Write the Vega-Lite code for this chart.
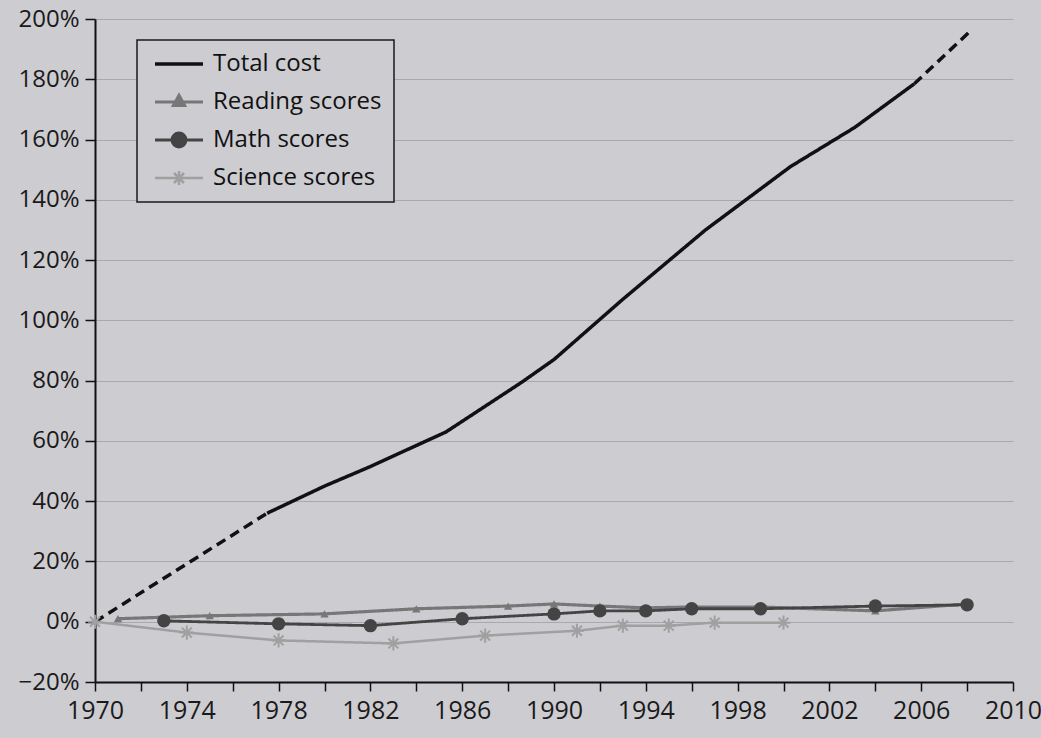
{
  "$schema": "https://vega.github.io/schema/vega-lite/v6.json",
  "autosize": "none",
  "width": 918,
  "height": 663,
  "padding": {"left": 95, "top": 19, "right": 28, "bottom": 56},
  "background": "#cdccd1",
  "config": {
    "view": {"stroke": null},
    "font": "Open Sans",
    "legend": {"strokeColor": "#1a1a1a", "strokeWidth": 1.5, "fillColor": "#cdccd1"}
  },
  "data": {
    "values": [
      {"series": "Total cost", "seg": "c1", "style": "dashed", "year": 1970, "value": 0},
      {"series": "Total cost", "seg": "c1", "style": "dashed", "year": 1977.5, "value": 36},
      {"series": "Total cost", "seg": "c2", "style": "solid", "year": 1977.5, "value": 36},
      {"series": "Total cost", "seg": "c2", "style": "solid", "year": 1980, "value": 45},
      {"series": "Total cost", "seg": "c2", "style": "solid", "year": 1982, "value": 51.5},
      {"series": "Total cost", "seg": "c2", "style": "solid", "year": 1985.3, "value": 63},
      {"series": "Total cost", "seg": "c2", "style": "solid", "year": 1988.6, "value": 79.5},
      {"series": "Total cost", "seg": "c2", "style": "solid", "year": 1990, "value": 87},
      {"series": "Total cost", "seg": "c2", "style": "solid", "year": 1993, "value": 107},
      {"series": "Total cost", "seg": "c2", "style": "solid", "year": 1996.6, "value": 130},
      {"series": "Total cost", "seg": "c2", "style": "solid", "year": 2000.3, "value": 151},
      {"series": "Total cost", "seg": "c2", "style": "solid", "year": 2003.1, "value": 164},
      {"series": "Total cost", "seg": "c2", "style": "solid", "year": 2005.7, "value": 178.5},
      {"series": "Total cost", "seg": "c3", "style": "dashed", "year": 2005.7, "value": 178.5},
      {"series": "Total cost", "seg": "c3", "style": "dashed", "year": 2008.1, "value": 195.7},

      {"series": "Reading scores", "seg": "r", "style": "solid", "year": 1971, "value": 1},
      {"series": "Reading scores", "seg": "r", "style": "solid", "year": 1975, "value": 2},
      {"series": "Reading scores", "seg": "r", "style": "solid", "year": 1980, "value": 2.6},
      {"series": "Reading scores", "seg": "r", "style": "solid", "year": 1984, "value": 4.3},
      {"series": "Reading scores", "seg": "r", "style": "solid", "year": 1988, "value": 5.2},
      {"series": "Reading scores", "seg": "r", "style": "solid", "year": 1990, "value": 5.9},
      {"series": "Reading scores", "seg": "r", "style": "solid", "year": 1992, "value": 5.2},
      {"series": "Reading scores", "seg": "r", "style": "solid", "year": 1994, "value": 4.6},
      {"series": "Reading scores", "seg": "r", "style": "solid", "year": 1996, "value": 4.9},
      {"series": "Reading scores", "seg": "r", "style": "solid", "year": 1999, "value": 4.9},
      {"series": "Reading scores", "seg": "r", "style": "solid", "year": 2004, "value": 3.6},
      {"series": "Reading scores", "seg": "r", "style": "solid", "year": 2008, "value": 5.9},

      {"series": "Math scores", "seg": "m", "style": "solid", "year": 1973, "value": 0.3},
      {"series": "Math scores", "seg": "m", "style": "solid", "year": 1978, "value": -0.7},
      {"series": "Math scores", "seg": "m", "style": "solid", "year": 1982, "value": -1.3},
      {"series": "Math scores", "seg": "m", "style": "solid", "year": 1986, "value": 1},
      {"series": "Math scores", "seg": "m", "style": "solid", "year": 1990, "value": 2.6},
      {"series": "Math scores", "seg": "m", "style": "solid", "year": 1992, "value": 3.6},
      {"series": "Math scores", "seg": "m", "style": "solid", "year": 1994, "value": 3.6},
      {"series": "Math scores", "seg": "m", "style": "solid", "year": 1996, "value": 4.3},
      {"series": "Math scores", "seg": "m", "style": "solid", "year": 1999, "value": 4.3},
      {"series": "Math scores", "seg": "m", "style": "solid", "year": 2004, "value": 5.2},
      {"series": "Math scores", "seg": "m", "style": "solid", "year": 2008, "value": 5.6},

      {"series": "Science scores", "seg": "s", "style": "solid", "year": 1970, "value": 0},
      {"series": "Science scores", "seg": "s", "style": "solid", "year": 1974, "value": -3.6},
      {"series": "Science scores", "seg": "s", "style": "solid", "year": 1978, "value": -6.2},
      {"series": "Science scores", "seg": "s", "style": "solid", "year": 1983, "value": -7.2},
      {"series": "Science scores", "seg": "s", "style": "solid", "year": 1987, "value": -4.6},
      {"series": "Science scores", "seg": "s", "style": "solid", "year": 1991, "value": -3},
      {"series": "Science scores", "seg": "s", "style": "solid", "year": 1993, "value": -1.3},
      {"series": "Science scores", "seg": "s", "style": "solid", "year": 1995, "value": -1.3},
      {"series": "Science scores", "seg": "s", "style": "solid", "year": 1997, "value": -0.3},
      {"series": "Science scores", "seg": "s", "style": "solid", "year": 2000, "value": -0.3}
    ]
  },
  "encoding": {
    "x": {
      "field": "year", "type": "quantitative",
      "scale": {"domain": [1970, 2010], "nice": false, "zero": false},
      "axis": {
        "title": null,
        "values": [1970,1972,1974,1976,1978,1980,1982,1984,1986,1988,1990,1992,1994,1996,1998,2000,2002,2004,2006,2008,2010],
        "labelExpr": "datum.value % 4 == 2 ? datum.value + '' : ''",
        "grid": false,
        "domainColor": "#111", "domainWidth": 2,
        "tickColor": "#111", "tickWidth": 1.5, "tickSize": 9,
        "labelFontSize": 25, "labelColor": "#1a1a1a", "labelPadding": 7,
        "labelFont": "Open Sans", "labelFlush": false
      }
    },
    "y": {
      "field": "value", "type": "quantitative",
      "scale": {"domain": [-20, 200], "nice": false, "zero": false},
      "axis": {
        "title": null,
        "values": [-20,0,20,40,60,80,100,120,140,160,180,200],
        "format": "d",
        "labelExpr": "datum.label + '%'",
        "grid": true, "gridColor": "#7d7d82", "gridOpacity": 0.45, "gridWidth": 1,
        "domainColor": "#111", "domainWidth": 2,
        "tickColor": "#111", "tickWidth": 1.5, "tickSize": 10,
        "labelFontSize": 24, "labelColor": "#1a1a1a", "labelPadding": 6,
        "labelFont": "Open Sans"
      }
    },
    "color": {
      "field": "series", "type": "nominal",
      "scale": {
        "domain": ["Total cost", "Reading scores", "Math scores", "Science scores"],
        "range": ["#111111", "#777777", "#444444", "#a0a0a0"]
      },
      "legend": {
        "title": null,
        "orient": "none",
        "legendX": 42,
        "legendY": 21,
        "padding": 12,
        "rowPadding": 13,
        "symbolSize": 400,
        "symbolOffset": 18,
        "labelOffset": 22,
        "labelFontSize": 24,
        "labelLimit": 500,
        "labelFont": "Open Sans",
        "labelColor": "#111",
        "encode": {
          "symbols": {
            "update": {
              "shape": {"signal": "datum.value == 'Total cost' ? 'M-2.4,0H2.4' : datum.value == 'Reading scores' ? 'M-2.4,0H2.4M0,-0.65L0.55,0.35L-0.55,0.35Z' : datum.value == 'Math scores' ? 'M-2.4,0H2.4M-0.7,0A0.7,0.7 0 1,1 0.7,0A0.7,0.7 0 1,1 -0.7,0Z' : 'M-2.4,0H2.4M-0.7,0H0.7M0,-0.7V0.7M-0.5,-0.5L0.5,0.5M-0.5,0.5L0.5,-0.5'"},
              "stroke": {"signal": "scale('color', datum.value)"},
              "fill": {"signal": "scale('color', datum.value)"},
              "strokeWidth": {"signal": "datum.value == 'Total cost' ? 3 : 2.5"},
              "opacity": {"value": 1}
            }
          }
        }
      }
    }
  },
  "layer": [
    {
      "mark": {"type": "line", "strokeCap": "butt"},
      "encoding": {
        "detail": {"field": "seg", "type": "nominal"},
        "strokeDash": {
          "field": "style", "type": "nominal",
          "scale": {"domain": ["solid", "dashed"], "range": [[1, 0], [10, 6]]},
          "legend": null
        },
        "strokeWidth": {
          "field": "series", "type": "nominal",
          "scale": {"domain": ["Total cost", "Reading scores", "Math scores", "Science scores"], "range": [3.5, 2.5, 3, 2.5]},
          "legend": null
        }
      }
    },
    {
      "transform": [{"filter": "datum.series == 'Reading scores'"}],
      "mark": {"type": "point", "shape": "triangle-up", "filled": true, "size": 70, "opacity": 1},
      "encoding": {}
    },
    {
      "transform": [{"filter": "datum.series == 'Math scores'"}],
      "mark": {"type": "point", "shape": "circle", "filled": true, "size": 180, "opacity": 1},
      "encoding": {}
    },
    {
      "transform": [{"filter": "datum.series == 'Science scores'"}],
      "mark": {"type": "point", "shape": "M-1,0H1M0,-1V1M-0.7,-0.7L0.7,0.7M-0.7,0.7L0.7,-0.7", "filled": false, "size": 200, "strokeWidth": 2, "opacity": 1},
      "encoding": {}
    }
  ]
}
